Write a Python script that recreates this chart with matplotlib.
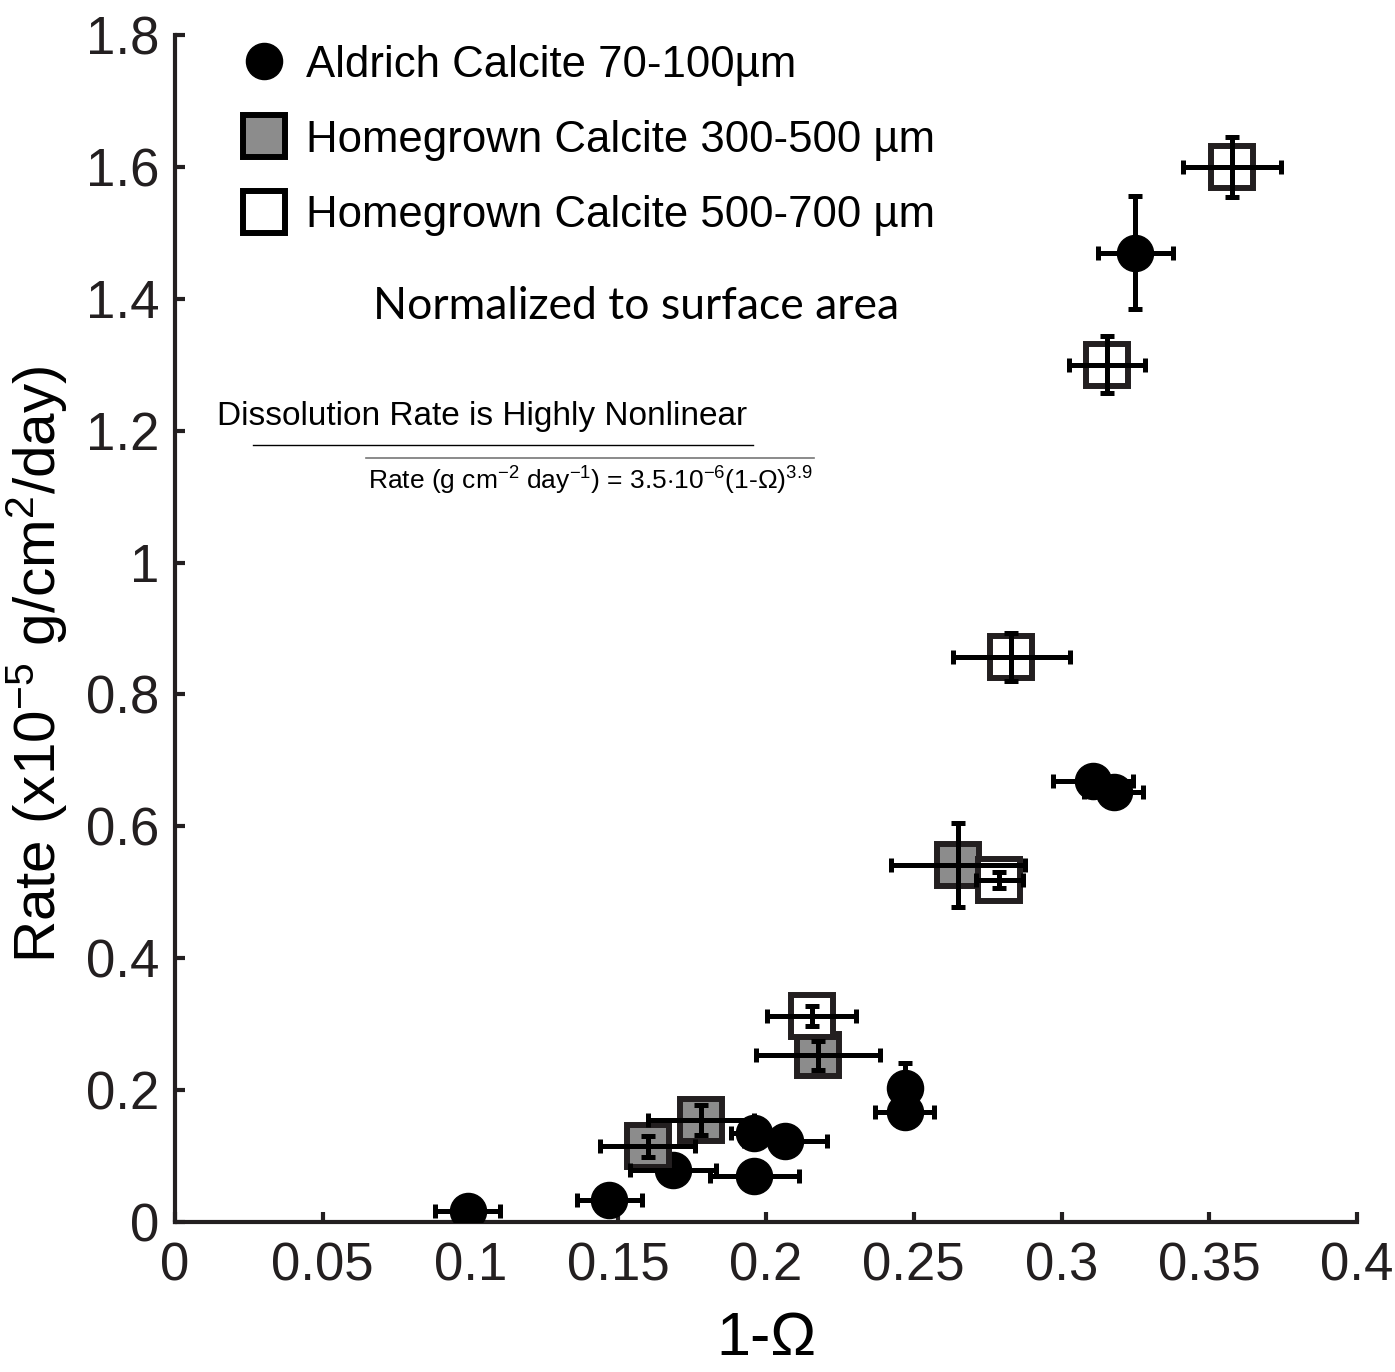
import matplotlib
matplotlib.use('Agg')
import matplotlib.pyplot as plt
from matplotlib.lines import Line2D

# Aldrich Calcite 70-100 um (filled circles)
ald_x = [0.099, 0.147, 0.1685, 0.196, 0.196, 0.2065, 0.247, 0.247, 0.3107, 0.3176, 0.325]
ald_y = [0.017, 0.033, 0.079, 0.070, 0.135, 0.123, 0.203, 0.167, 0.669, 0.652, 1.47]
ald_xerr = [0.011, 0.011, 0.0145, 0.015, 0.008, 0.014, 0.005, 0.010, 0.0135, 0.010, 0.0127]
ald_yerr = [0, 0, 0, 0, 0, 0, 0.038, 0, 0, 0, 0.086]

# Homegrown Calcite 300-500 um (grey squares)
hg3_x = [0.160, 0.178, 0.2176, 0.265]
hg3_y = [0.115, 0.155, 0.253, 0.541]
hg3_xerr = [0.016, 0.018, 0.021, 0.0227]
hg3_yerr = [0.016, 0.023, 0.022, 0.064]

# Homegrown Calcite 500-700 um (open squares)
hg5_x = [0.2155, 0.279, 0.283, 0.3154, 0.3577]
hg5_y = [0.312, 0.519, 0.857, 1.30, 1.60]
hg5_xerr = [0.015, 0.008, 0.0197, 0.013, 0.0165]
hg5_yerr = [0.015, 0.012, 0.036, 0.043, 0.045]

x_ticks = [0, 0.05, 0.1, 0.15, 0.2, 0.25, 0.3, 0.35, 0.4]
x_labels = ['0', '0.05', '0.1', '0.15', '0.2', '0.25', '0.3', '0.35', '0.4']
y_ticks = [0, 0.2, 0.4, 0.6, 0.8, 1.0, 1.2, 1.4, 1.6, 1.8]
y_labels = ['0', '0.2', '0.4', '0.6', '0.8', '1', '1.2', '1.4', '1.6', '1.8']

plt.rcParams['font.family'] = ['Liberation Sans', 'DejaVu Sans']
plt.rcParams['mathtext.fontset'] = 'custom'
plt.rcParams['mathtext.rm'] = 'Liberation Sans'
plt.rcParams['mathtext.it'] = 'Liberation Sans'

fig = plt.figure(figsize=(13.95, 13.72), dpi=100)
ax = fig.add_axes([0.1254, 0.1093, 0.8474, 0.8652])

edge = '#231f20'
grey = '#8c8c8c'

ax.plot(ald_x, ald_y, 'o', ms=26, color='black', mec='black', zorder=3)
ax.plot(hg3_x, hg3_y, 's', ms=30, mfc=grey, mec=edge, mew=4.3, zorder=3)
ax.plot(hg5_x, hg5_y, 's', ms=30, mfc='white', mec=edge, mew=4.3, zorder=3)

ekw = dict(fmt='none', ecolor='black', elinewidth=3.6, capsize=5, capthick=3.6, zorder=4)
ax.errorbar(ald_x, ald_y, xerr=ald_xerr, yerr=ald_yerr, **ekw)
ax.errorbar(hg3_x, hg3_y, xerr=hg3_xerr, yerr=hg3_yerr, **ekw)
ax.errorbar(hg5_x, hg5_y, xerr=hg5_xerr, yerr=hg5_yerr, **ekw)

ax.set_xlim(0, 0.4)
ax.set_ylim(0, 1.8)
ax.set_xticks(x_ticks)
ax.set_xticklabels(x_labels)
ax.set_yticks(y_ticks)
ax.set_yticklabels(y_labels)
ax.tick_params(direction='in', length=7, width=3, labelsize=38, pad=11, colors='#231f20')
ax.tick_params(axis='x', pad=14)
for s in ['top', 'right']:
    ax.spines[s].set_visible(False)
for s in ['left', 'bottom']:
    ax.spines[s].set_linewidth(3)
    ax.spines[s].set_color('#231f20')

ax.set_xlabel('1-Ω', fontsize=44, labelpad=14)
ax.set_ylabel(r'Rate (x10$^{-5}$ g/cm$^{2}$/day)', fontsize=42)
ax.yaxis.set_label_coords(-0.089, 0.47)

handles = [
    Line2D([], [], ls='none', marker='o', ms=26, color='black'),
    Line2D([], [], ls='none', marker='s', ms=30, mfc=grey, mec='black', mew=4.3),
    Line2D([], [], ls='none', marker='s', ms=30, mfc='white', mec='black', mew=4.3),
]
labels = ['Aldrich Calcite 70-100µm', 'Homegrown Calcite 300-500 µm', 'Homegrown Calcite 500-700 µm']
ax.legend(handles, labels, loc='upper left', bbox_to_anchor=(0.02, 1.025), frameon=False,
          fontsize=31.5, labelspacing=0.78, handletextpad=0.35, handlelength=1.2)

ax.text(0.39, 0.771, 'Normalized to surface area', transform=ax.transAxes,
        fontsize=32, family=['Lato', 'DejaVu Sans'], ha='center', va='center')

narrow = ['Liberation Sans Narrow', 'Liberation Sans']
ax.text(0.036, 0.6785, 'Dissolution Rate is Highly Nonlinear', transform=ax.transAxes,
        fontsize=24, family=narrow, ha='left', va='center')
ax.plot([0.066, 0.489], [0.6545, 0.6545], transform=ax.transAxes, color='black', lw=1)
ax.plot([0.162, 0.541], [0.6435, 0.6435], transform=ax.transAxes, color='#777777', lw=1.2)
ax.text(0.163, 0.6245, r'Rate (g cm$^{-2}$ day$^{-1}$) = 3.5$\cdot$10$^{-6}$(1-Ω)$^{3.9}$',
        transform=ax.transAxes, fontsize=19, family=narrow, ha='left', va='center')

plt.savefig('out.png', dpi=100)
